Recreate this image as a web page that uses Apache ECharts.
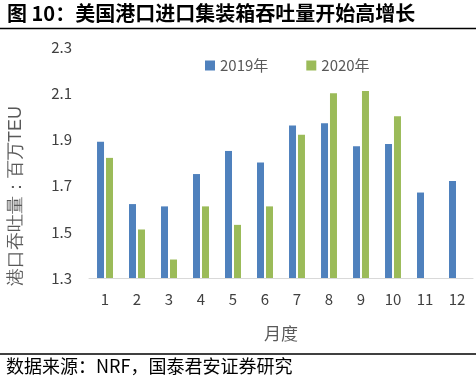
<!DOCTYPE html>
<html><head><meta charset="utf-8">
<script src="https://cdn.jsdelivr.net/npm/echarts@6/dist/echarts.min.js"></script>
<style>html,body{margin:0;padding:0;background:#fff}#c{width:476px;height:380px}</style>
</head><body><div id="c"></div>
<script>
var months = ['1','2','3','4','5','6','7','8','9','10','11','12'];
var y2019 = [1.89,1.62,1.61,1.75,1.85,1.80,1.96,1.97,1.87,1.88,1.67,1.72];
var y2020 = [1.82,1.51,1.38,1.61,1.53,1.61,1.92,2.10,2.11,2.00,null,null];
var seriesNames = ['2019年','2020年'];
var titleText = '图 10：美国港口进口集装箱吞吐量开始高增长';
var sourceText = '数据来源：NRF，国泰君安证券研究';
var yName = '港口吞吐量：百万TEU';

var chart = echarts.init(document.getElementById('c'));
chart.setOption({
  animation:false,
  backgroundColor:'#fff',
  textStyle:{fontFamily:'"Noto Sans CJK SC", "Noto Sans", sans-serif'},
  graphic:[
    {type:'text',left:7,top:3,style:{text:titleText,fontSize:20,fontWeight:'bold',fill:'#000',fontFamily:'"Noto Sans CJK SC", serif'}},
    {type:'line',shape:{x1:0,y1:28.5,x2:476,y2:28.5},style:{stroke:'#000',lineWidth:1.5}},
    {type:'line',shape:{x1:0,y1:354,x2:476,y2:354},style:{stroke:'#000',lineWidth:1.5}},
    {type:'text',left:6,top:357,style:{text:sourceText,fontSize:18,fill:'#000',fontFamily:'"Noto Sans CJK SC", serif'}},
    {type:'text',x:16,y:196,rotation:Math.PI/2,style:{text:yName,fontSize:18,fill:'#595959',align:'center',verticalAlign:'middle'}}
  ],
  legend:{
    data:seriesNames,left:200,top:53,itemWidth:10,itemHeight:10,itemGap:38,
    icon:'rect',textStyle:{fontSize:15,color:'#595959'}
  },
  grid:{left:89,right:3,top:47,bottom:102},
  xAxis:{
    type:'category',data:months,
    name:'月度',nameLocation:'middle',nameGap:47,
    nameTextStyle:{fontSize:17,color:'#595959'},
    axisLine:{lineStyle:{color:'#d9d9d9',width:1}},
    axisTick:{show:false},
    axisLabel:{fontSize:15,color:'#404040',margin:14}
  },
  yAxis:{
    type:'value',min:1.3,max:2.3,interval:0.2,
    axisLine:{show:false},axisTick:{show:false},splitLine:{show:false},
    axisLabel:{fontSize:15,color:'#404040',margin:17,formatter:function(v){return v.toFixed(1);}}
  },
  series:[
    {name:seriesNames[0],type:'bar',data:y2019,barWidth:7,barGap:'28%',itemStyle:{color:'#4f81bd'}},
    {name:seriesNames[1],type:'bar',data:y2020,barWidth:7,itemStyle:{color:'#9bbb59'}}
  ]
});
</script></body></html>
